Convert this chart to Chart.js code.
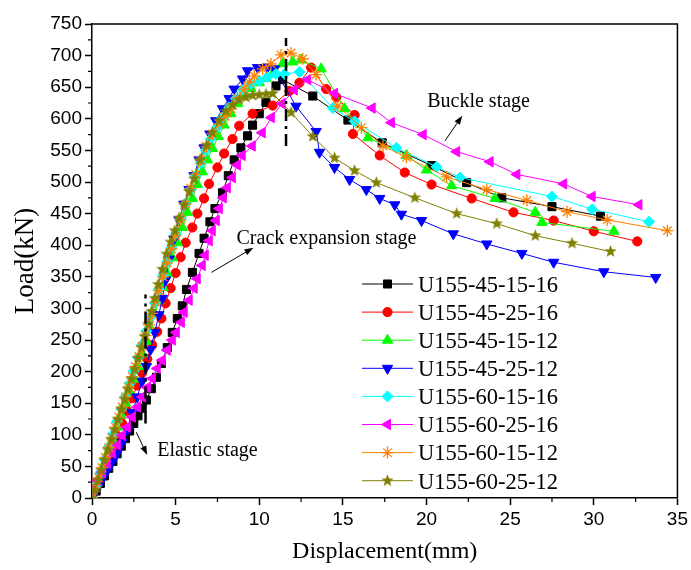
<!DOCTYPE html>
<html><head><meta charset="utf-8">
<script src="https://cdn.jsdelivr.net/npm/chart.js@4.4.0/dist/chart.umd.min.js"></script>
<style>html,body{margin:0;padding:0;background:#fff;}#wrap{width:691px;height:570px;}</style>
</head><body><div id="wrap"><canvas id="c" width="691" height="570"></canvas></div>
<script>
// ---------- DATA ----------
const seriesLabels = ['U155-45-15-16','U155-45-25-16','U155-45-15-12','U155-45-25-12','U155-60-15-16','U155-60-25-16','U155-60-15-12','U155-60-25-12'];

const disp_45_15_16 = [0,0.25,0.5,0.75,1.0,1.25,1.5,1.75,2.0,2.25,2.5,2.75,3.0,3.25,3.55,3.85,4.15,4.5,4.8,5.1,5.4,5.65,6.0,6.4,6.7,7.05,7.35,7.8,8.15,8.5,8.9,9.3,9.6,10.0,10.4,11.0,11.4,13.2,15.3,17.35,20.3,22.4,24.5,27.5,30.4];
const load_45_15_16 = [0,11,23,35,47,58,70,82,94,106,118,130,142,155,173,191,213,238,262,284,304,330,357,387,411,437,458,483,510,535,554,573,590,608,626,652,662,636,598,562,526,499,475,461,446];

const disp_45_25_16 = [0,0.3,0.6,0.9,1.2,1.5,1.8,2.1,2.4,2.7,3.0,3.3,3.6,3.9,4.15,4.4,4.7,5.0,5.3,5.6,6.0,6.3,6.7,7.0,7.5,7.9,8.4,8.8,9.6,10.8,11.8,12.4,13.1,14.0,14.6,15.7,15.6,17.2,18.7,20.3,22.7,25.2,27.6,30.0,32.6];
const load_45_25_16 = [0,19,38,58,78,98,118,138,158,178,198,220,242,263,284,308,332,356,381,404,428,450,474,497,523,545,568,589,608,621,644,657,681,647,634,606,576,542,515,496,474,452,439,422,406];

const disp_45_15_12 = [0,0.25,0.5,0.75,1.0,1.25,1.5,1.75,2.0,2.25,2.5,2.75,3.0,3.25,3.5,3.75,4.0,4.25,4.5,4.8,5.1,5.4,5.7,6.0,6.3,6.6,6.9,7.2,7.55,7.9,8.3,8.7,9.1,9.5,10.0,10.4,10.8,11.4,12.0,12.5,13.7,15.1,16.5,18.8,20.0,21.5,24.1,26.5,26.9,31.2];
const load_45_15_12 = [0,18,36,55,74,93,112,131,150,169,188,208,228,248,268,290,312,333,355,380,404,428,452,474,496,516,535,553,572,590,608,624,638,648,657,664,671,687,690,693,679,616,570,542,519,494,474,452,436,422];

const disp_45_25_12 = [0,0.3,0.6,0.9,1.2,1.5,1.8,2.1,2.4,2.7,3.0,3.25,3.5,3.75,4.0,4.2,4.4,4.6,4.9,5.2,5.5,5.8,6.1,6.4,6.7,7.05,7.4,7.8,8.2,8.5,9.0,9.3,9.9,10.5,10.9,12.2,13.4,13.6,14.5,15.4,16.4,17.2,18.1,18.5,19.7,21.6,23.6,25.7,27.6,30.6,33.7];
const load_45_25_12 = [0,15,29,43,57,71,88,108,135,160,185,208,235,262,290,316,345,378,410,440,465,488,510,535,554,576,597,616,632,647,663,676,681,682,679,620,580,547,523,504,488,474,464,449,439,418,402,387,373,358,349];

const disp_60_15_16 = [0,0.25,0.5,0.75,1.0,1.25,1.5,1.75,2.0,2.25,2.5,2.75,3.0,3.25,3.5,3.75,4.0,4.25,4.5,4.75,5.0,5.3,5.6,5.9,6.2,6.5,6.8,7.1,7.45,7.8,8.2,8.6,9.0,9.5,10.0,10.5,11.0,11.5,12.4,14.4,15.7,18.2,20.6,22.0,27.5,29.9,33.3];
const load_60_15_16 = [0,20,40,61,81,101,121,141,161,181,201,222,243,264,286,308,330,352,374,396,418,442,466,488,510,530,550,568,586,602,618,632,645,655,660,666,671,671,674,617,596,554,524,507,477,457,437];

const disp_60_25_16 = [0,0.14,0.32,0.62,0.91,1.21,1.51,1.81,2.11,2.41,2.71,3.01,3.31,3.61,3.9,4.2,4.5,4.8,5.04,5.34,5.51,5.81,6.11,6.29,6.59,6.77,7.01,7.19,7.43,7.61,7.85,8.09,8.39,8.69,8.98,9.58,10.18,10.72,11.37,12.1,12.9,14.5,16.75,17.9,19.8,21.8,23.8,25.4,28.2,29.9,32.7];
const load_60_25_16 = [0,16,28,41,55,71,84,99,112,128,144,160,175,189,205,218,234,250,262,278,294,313,332,347,368,384,407,423,439,458,475,491,507,527,542,557,578,602,624,646,662,640,617,594,575,548,532,512,497,477,464];

const disp_60_15_12 = [0,0.2,0.4,0.6,0.8,1.0,1.2,1.4,1.6,1.8,2.0,2.2,2.4,2.6,2.8,3.0,3.2,3.4,3.6,3.8,4.0,4.25,4.5,4.75,5.0,5.3,5.6,5.9,6.2,6.5,6.85,7.2,7.6,7.95,8.3,8.7,9.1,9.4,9.7,10.2,10.7,11.3,11.9,12.6,13.4,14.7,16.1,17.4,18.8,21.2,23.6,26.0,28.4,30.8,34.4];
const load_60_15_12 = [0,16,32,48,64,80,96,112,128,144,160,176,192,208,224,240,257,274,292,310,328,350,372,394,415,440,465,490,512,535,556,576,592,604,616,633,647,658,668,679,687,701,704,695,670,620,586,557,539,508,488,471,453,440,423];

const disp_60_25_12 = [0,0.15,0.35,0.55,0.75,0.95,1.15,1.35,1.55,1.75,1.95,2.15,2.35,2.55,2.75,2.95,3.15,3.35,3.55,3.75,3.95,4.2,4.45,4.7,4.95,5.2,5.5,5.8,6.1,6.45,6.85,7.2,7.6,8.0,8.4,8.8,9.2,9.6,10.0,10.4,10.8,11.9,13.2,14.5,15.7,17.0,19.3,21.8,24.2,26.5,28.7,31.0];
const load_60_25_12 = [0,12,28,44,60,76,92,108,124,140,156,172,188,204,221,238,256,275,295,316,338,362,386,405,423,443,464,485,505,535,558,578,597,612,622,630,634,637,638,639,640,610,572,538,518,499,475,450,434,415,403,390];

// stage boundary lines (x, y from, y to)
const peakLineX = [11.6, 11.6];   const peakLineY = [557, 728];
const elasticLineX = [3.2, 3.2];  const elasticLineY = [118, 322];

// annotation labels
const annoTexts = ['Crack expansion stage','Buckle stage','Elastic stage'];
const annoTextX = [8.64, 20.04, 3.9];
const annoTextY = [401.6, 619, 66.3];
const arrowFromX = [7.14, 21.1, 2.65]; const arrowFromY = [357, 565, 104];
const arrowToX   = [9.65, 22.14, 3.3]; const arrowToY   = [396, 605, 68];

// ---------- STYLE ----------
const colors = ['#000000','#ff0000','#00ff00','#0000ff','#00ffff','#ff00ff','#ff8000','#808000'];
function makeStar(color, R){
  const s = Math.ceil(R*2+2); const c = document.createElement('canvas'); c.width=s; c.height=s;
  const g = c.getContext('2d'); g.fillStyle=color; g.beginPath();
  for(let i=0;i<10;i++){const r=i%2?R*0.42:R; const a=-Math.PI/2+i*Math.PI/5; g.lineTo(s/2+r*Math.cos(a), s/2+r*Math.sin(a));}
  g.closePath(); g.fill(); return c;
}
const starImg = makeStar('#808000', 6.5);
const pStyles = [
  {pointStyle:'rect', radius:5.7, rotation:0},
  {pointStyle:'circle', radius:4.6, rotation:0},
  {pointStyle:'triangle', radius:6, rotation:0},
  {pointStyle:'triangle', radius:6, rotation:180},
  {pointStyle:'rectRot', radius:5.5, rotation:0},
  {pointStyle:'triangle', radius:6, rotation:-90},
  {pointStyle:'star', radius:6, rotation:0},
  {pointStyle:starImg, radius:6.5, rotation:0}
];
const allX = [disp_45_15_16,disp_45_25_16,disp_45_15_12,disp_45_25_12,disp_60_15_16,disp_60_25_16,disp_60_15_12,disp_60_25_12];
const allY = [load_45_15_16,load_45_25_16,load_45_15_12,load_45_25_12,load_60_15_16,load_60_25_16,load_60_15_12,load_60_25_12];
const zip = (xs,ys)=>xs.map((x,i)=>({x:x,y:ys[i]}));

const datasets = seriesLabels.map((lab,i)=>({
  label: lab, data: zip(allX[i], allY[i]), showLine:true,
  borderColor: colors[i], backgroundColor: colors[i], borderWidth:1,
  pointStyle: pStyles[i].pointStyle, pointRadius: pStyles[i].radius, pointRotation: pStyles[i].rotation,
  pointBackgroundColor: colors[i], pointBorderColor: colors[i], pointBorderWidth: i===6?1.3:1,
  pointHoverRadius: pStyles[i].radius, order: 10 - i, isSeries:true
}));
datasets.push({label:'peak', data: zip(peakLineX, peakLineY), showLine:true, borderColor:'#000', borderWidth:2.5, borderDash:[12,5,3,5], pointRadius:0, order:0});
datasets.push({label:'elastic', data: zip(elasticLineX, elasticLineY), showLine:true, borderColor:'#000', borderWidth:2.5, borderDash:[12,5,3,5], pointRadius:0, order:0});

const SERIF = '"Liberation Serif", "Times New Roman", serif';
const SANS = '"Liberation Sans", Arial, sans-serif';

const decor = {
  id:'decor',
  afterDraw(chart){
    const {ctx, chartArea:a, scales:{x, y}} = chart;
    ctx.save();
    // frame top/right
    ctx.strokeStyle='#000'; ctx.lineWidth=1.5;
    ctx.beginPath(); ctx.moveTo(a.left, a.top); ctx.lineTo(a.right, a.top); ctx.lineTo(a.right, a.bottom); ctx.stroke();
    // minor ticks
    ctx.lineWidth=1.2; ctx.beginPath();
    for(let v=2.5; v<35; v+=5){const px=x.getPixelForValue(v); ctx.moveTo(px,a.bottom); ctx.lineTo(px,a.bottom+4);}
    for(let v=25; v<750; v+=50){const py=y.getPixelForValue(v); ctx.moveTo(a.left,py); ctx.lineTo(a.left-4,py);}
    ctx.stroke();
    // annotations
    ctx.fillStyle='#000'; ctx.font='20px '+SERIF; ctx.textBaseline='alphabetic'; ctx.textAlign='left';
    annoTexts.forEach((t,i)=>ctx.fillText(t, x.getPixelForValue(annoTextX[i]), y.getPixelForValue(annoTextY[i])));
    ctx.lineWidth=1;
    arrowFromX.forEach((_,i)=>{
      const x1=x.getPixelForValue(arrowFromX[i]), y1=y.getPixelForValue(arrowFromY[i]);
      const x2=x.getPixelForValue(arrowToX[i]), y2=y.getPixelForValue(arrowToY[i]);
      const ang=Math.atan2(y2-y1,x2-x1), L=9, W=3.2;
      ctx.beginPath(); ctx.moveTo(x1,y1); ctx.lineTo(x2-L*Math.cos(ang)*0.8,y2-L*Math.sin(ang)*0.8); ctx.stroke();
      ctx.beginPath(); ctx.moveTo(x2,y2);
      ctx.lineTo(x2-L*Math.cos(ang)+W*Math.sin(ang), y2-L*Math.sin(ang)-W*Math.cos(ang));
      ctx.lineTo(x2-L*Math.cos(ang)-W*Math.sin(ang), y2-L*Math.sin(ang)+W*Math.cos(ang));
      ctx.closePath(); ctx.fill();
    });
    // legend
    const lx1=362, lx2=413, mx=387.5, tx=418, ty0=284, dy=28.1;
    ctx.font='22.5px '+SERIF;
    chart.data.datasets.filter(d=>d.isSeries).forEach((d,i)=>{
      const yy=ty0+dy*i;
      ctx.strokeStyle=d.borderColor; ctx.lineWidth=1;
      ctx.beginPath(); ctx.moveTo(lx1,yy); ctx.lineTo(lx2,yy); ctx.stroke();
      ctx.fillStyle=d.pointBackgroundColor; ctx.strokeStyle=d.pointBorderColor; ctx.lineWidth=d.pointBorderWidth;
      Chart.helpers.drawPoint(ctx,{pointStyle:d.pointStyle, rotation:d.pointRotation, radius:d.pointRadius, borderWidth:d.pointBorderWidth}, mx, yy);
      ctx.fillStyle='#000';
      ctx.fillText(d.label, tx, yy+7.8);
    });
    ctx.restore();
  }
};

new Chart(document.getElementById('c'), {
  type:'scatter',
  data:{datasets},
  options:{
    responsive:false, animation:false, devicePixelRatio:1,
    layout:{padding:{top:24,right:13,left:0,bottom:0}},
    plugins:{legend:{display:false}, tooltip:{enabled:false}},
    scales:{
      x:{type:'linear', min:0, max:35,
        ticks:{stepSize:5, font:{family:SANS, size:19}, color:'#000', padding:3, maxRotation:0},
        grid:{drawOnChartArea:false, drawTicks:true, tickLength:7, tickColor:'#000', tickWidth:1.5},
        border:{display:true, color:'#000', width:1.5},
        title:{display:true, text:'Displacement(mm)', color:'#000', font:{family:SERIF, size:24}, padding:{top:0,bottom:4}},
        afterFit(s){s.height=72;}
      },
      y:{type:'linear', min:0, max:750,
        ticks:{stepSize:50, font:{family:SANS, size:19}, color:'#000', padding:3},
        grid:{drawOnChartArea:false, drawTicks:true, tickLength:7, tickColor:'#000', tickWidth:1.5},
        border:{display:true, color:'#000', width:1.5},
        title:{display:true, text:'Load(kN)', color:'#000', font:{family:SERIF, size:27}, padding:{top:10,bottom:0}},
        afterFit(s){s.width=92;}
      }
    }
  },
  plugins:[decor]
});
</script></body></html>
